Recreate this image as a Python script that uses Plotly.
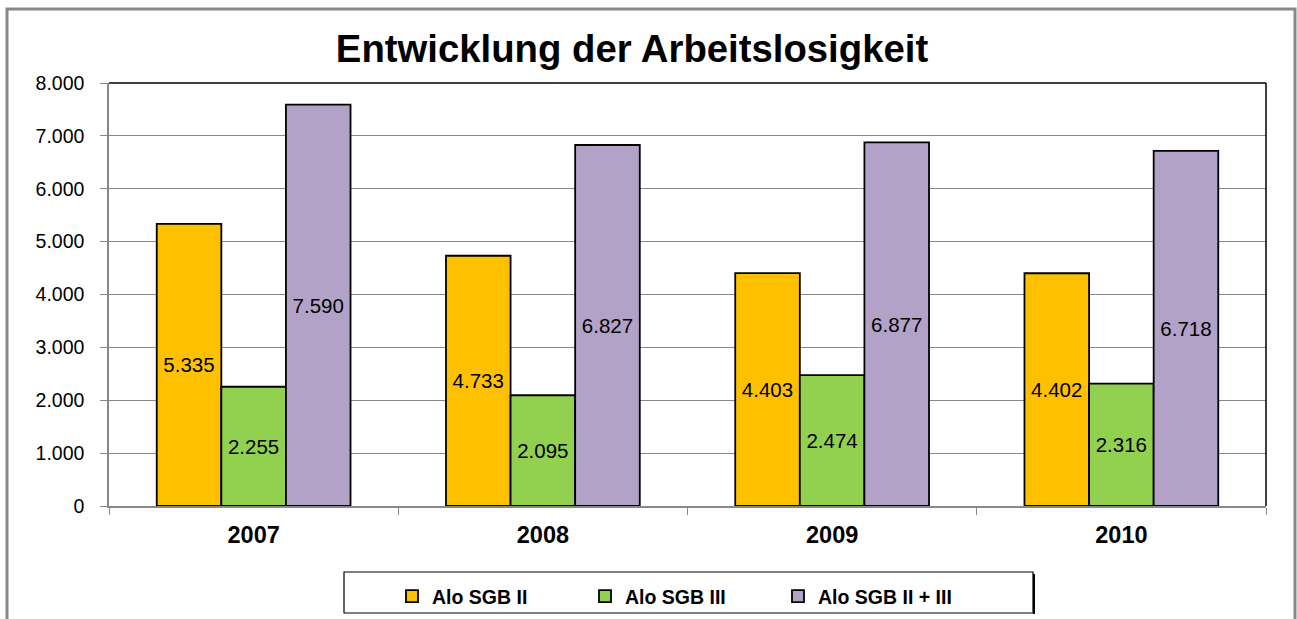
import plotly.graph_objects as go

years = ["2007", "2008", "2009", "2010"]
sgb2 = [5335, 4733, 4403, 4402]
sgb3 = [2255, 2095, 2474, 2316]
sgb23 = [7590, 6827, 6877, 6718]
series_names = ["Alo SGB II", "Alo SGB III", "Alo SGB II + III"]
colors = ["#FFC000", "#92D050", "#B3A2C7"]

W, H = 1297, 619
L, R, T, B = 109, 1266, 83, 506
pw, ph = R - L, B - T

def px(x):
    return (x - L) / pw

def py(y):
    return (B - y) / ph

FONT = "Liberation Sans, Arial"

fig = go.Figure()
for name, vals, col in zip(series_names, [sgb2, sgb3, sgb23], colors):
    fig.add_trace(go.Bar(
        x=years, y=vals, name=name,
        marker=dict(color=col, line=dict(color="black", width=1.8)),
        texttemplate="%{y:,}", textposition="inside", insidetextanchor="middle",
        textangle=0,
        textfont=dict(family=FONT, size=20.5, color="black"),
    ))

fig.update_layout(
    width=W, height=H,
    margin=dict(l=L, r=W - R, t=T, b=H - B, autoexpand=False),
    paper_bgcolor="white", plot_bgcolor="white",
    separators=",.",
    barmode="group", bargap=0.33, bargroupgap=0,
    title=dict(text="<b>Entwicklung der Arbeitslosigkeit</b>", x=632 / W, xanchor="center",
               y=1 - 49 / H, yanchor="middle",
               font=dict(family=FONT, size=38.3, color="black")),
    font=dict(family=FONT, color="black"),
    xaxis=dict(showline=True, linecolor="#888", linewidth=1.5, ticks="outside", tickson="boundaries",
               tickcolor="#888", ticklen=7, ticklabelstandoff=7,
               tickfont=dict(size=23.5, family=FONT, weight="bold"),
               showgrid=False),
    yaxis=dict(range=[0, 8000], dtick=1000, tickformat=",d", showline=True, linecolor="#888", linewidth=1.5,
               ticks="outside", tickcolor="#888", ticklen=7, ticklabelstandoff=12,
               showgrid=True, gridcolor="#888", gridwidth=1,
               tickfont=dict(size=19.5, family=FONT), zeroline=False),
    showlegend=True,
    legend=dict(orientation="h", x=px(392), xanchor="left", y=py(577), yanchor="top",
                bgcolor="rgba(0,0,0,0)", borderwidth=0,
                entrywidth=148, entrywidthmode="pixels", itemwidth=30,
                font=dict(size=19.5, family=FONT, weight="bold", color="black")),
    shapes=[
        # outer border
        dict(type="rect", xref="paper", yref="paper", x0=px(7), x1=px(1295), y0=py(630), y1=py(9),
             line=dict(color="#888", width=3), fillcolor="rgba(0,0,0,0)", layer="below"),
        # plot top and right border
        dict(type="line", xref="paper", yref="paper", x0=0, x1=1, y0=1, y1=1, line=dict(color="black", width=1.5)),
        dict(type="line", xref="paper", yref="paper", x0=1, x1=1, y0=0, y1=1, line=dict(color="black", width=1.5)),
        # legend box
        dict(type="rect", xref="paper", yref="paper", x0=px(344), x1=px(1033), y0=py(613), y1=py(572),
             line=dict(color="black", width=1.2), fillcolor="rgba(0,0,0,0)"),
        dict(type="line", xref="paper", yref="paper", x0=px(1034), x1=px(1034), y0=py(614), y1=py(574),
             line=dict(color="black", width=2)),
    ],
)

fig.write_html("out.html", config={"displayModeBar": False},
               post_script="document.body.style.margin='0';document.body.style.overflow='hidden';")
